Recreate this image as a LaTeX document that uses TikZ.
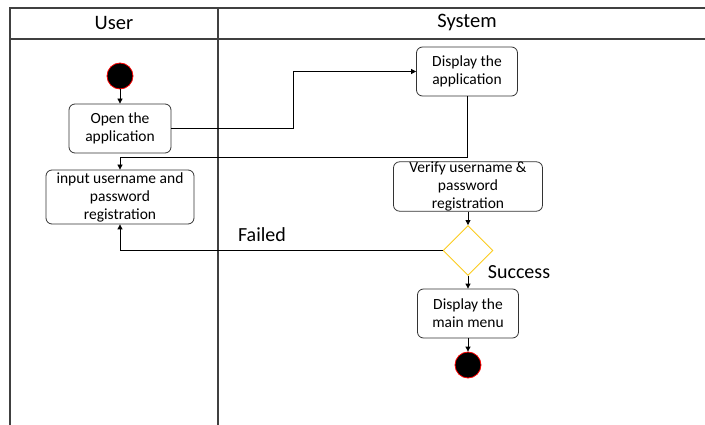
\documentclass[tikz,border=0pt]{standalone}
\usepackage{fontspec}
\setmainfont{Carlito}
\usetikzlibrary{shapes.geometric,arrows.meta}
\begin{document}
\begin{tikzpicture}[x=1pt,y=-1pt,
  box/.style={draw=black!80, rounded corners=6pt, line width=0.8pt, align=center,
    font=\fontsize{15.5}{18}\selectfont, inner sep=0pt},
  dot/.style={circle, fill=black, draw=red, line width=0.8pt, minimum size=26pt, inner sep=0pt},
  arr/.style={draw=black, line width=0.8pt, -{Triangle[length=5pt,width=5pt]}},
  frame/.style={draw=black!75, line width=1.4pt},
  hdr/.style={font=\fontsize{20.5}{22}\selectfont},
  lbl/.style={font=\fontsize{20}{22}\selectfont}]
\useasboundingbox (0,0) rectangle (705,425);
% frame
\draw[frame] (705,8) -- (10,8) -- (10,425);
\draw[frame] (10,39) -- (705,39);
\draw[frame] (218,8) -- (218,425);
\node[hdr] (huser) at (114,23) {User};
\node[hdr] (hsys) at (467,23) {System};
% nodes
\node[dot] (start) at (120,76) {};
\node[box, minimum width=102pt, minimum height=49pt] (open) at (120,128.5) {Open the\\application};
\node[box, minimum width=101pt, minimum height=49pt] (disp) at (467,71.5) {Display the\\application};
\node[box, minimum width=148pt, minimum height=54pt] (inp) at (120,197) {input username and\\password\\registration};
\node[box, minimum width=149pt, minimum height=49pt] (ver) at (468,186.5) {Verify username \&\\password\\registration};
\node[diamond, draw=yellow!60!orange!90, line width=0.9pt, fill=white, aspect=1, minimum size=50pt, inner sep=0pt] (dec) at (468,250.5) {};
\node[box, minimum width=101pt, minimum height=49pt] (menu) at (468,313.5) {Display the\\main menu};
\node[dot] (end) at (468,365) {};
\node[lbl] (failed) at (262,235) {Failed};
\node[lbl] (succ) at (519,272) {Success};
% connectors
\coordinate (k1) at (293,100);
\coordinate (k2) at (300,157);
\draw[arr] (start) -- (open);
\draw[arr] (open.east) -- (open.east -| k1) |- (disp.west);
\draw[arr] (disp.south) -- (disp.south |- k2) -| (inp.north);
\draw[arr] (ver) -- (dec);
\draw[arr] (dec.west) -| (inp.south);
\draw[arr] (dec) -- (menu);
\draw[arr] (menu) -- (end);
\end{tikzpicture}
\end{document}
